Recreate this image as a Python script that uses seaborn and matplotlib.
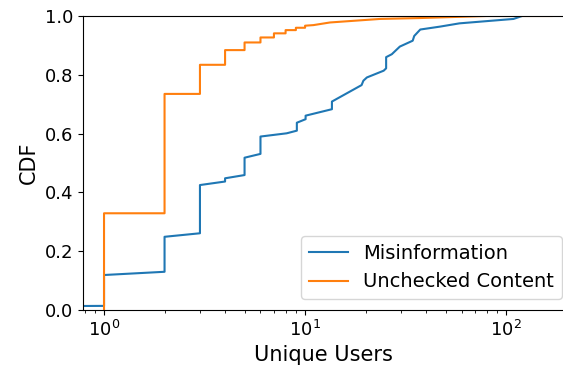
import matplotlib
matplotlib.use("Agg")
import matplotlib.pyplot as plt
import seaborn as sns
import pandas as pd

series_names = ["Misinformation", "Unchecked Content"]

misinfo_x = [0.5, 1, 1, 2, 2, 3, 3, 4, 4, 5, 5, 6, 6, 8.1, 9.1, 9.1, 10.06, 10.06,
             13.6, 13.6, 19.1, 19.5, 20.3, 24.6, 25.3, 25.3, 27.0, 29.6, 34.3, 34.9,
             37.4, 47, 58.6, 108.8, 120]
misinfo_cdf = [0.013, 0.014, 0.119, 0.130, 0.249, 0.261, 0.425, 0.437, 0.448, 0.459,
               0.518, 0.531, 0.590, 0.601, 0.610, 0.637, 0.649, 0.661,
               0.683, 0.709, 0.765, 0.780, 0.791, 0.814, 0.822, 0.860, 0.870, 0.896,
               0.916, 0.932, 0.954, 0.964, 0.975, 0.990, 1.0]

unchecked_x = [1, 1, 2, 2, 3, 3, 4, 4, 5, 5, 6, 6, 7, 7, 8, 8, 9, 9, 10, 10,
               11, 13.3, 23.6, 37, 80, 168]
unchecked_cdf = [0.0, 0.329, 0.329, 0.735, 0.735, 0.834, 0.834, 0.884, 0.884, 0.910,
                 0.910, 0.927, 0.927, 0.941, 0.941, 0.952, 0.952, 0.960, 0.960, 0.967,
                 0.969, 0.978, 0.990, 0.993, 1.0, 1.0]

df = pd.concat([
    pd.DataFrame({"x": misinfo_x, "y": misinfo_cdf, "series": series_names[0],
                  "order": range(len(misinfo_x))}),
    pd.DataFrame({"x": unchecked_x, "y": unchecked_cdf, "series": series_names[1],
                  "order": range(len(unchecked_x))}),
], ignore_index=True)

fig = plt.figure(figsize=(5.63, 3.72), dpi=100)
ax = fig.add_axes([83 / 563, 62 / 372, 481 / 563, 294 / 372])

sns.lineplot(data=df, x="x", y="y", hue="series", units="series", estimator=None,
             sort=False, palette=["#1f77b4", "#ff7f0e"], linewidth=1.5, ax=ax)

ax.set_xscale("log")
ax.set_xlim(0.786, 194)
ax.set_ylim(0, 1)
ax.set_xlabel("Unique Users", fontsize=15)
ax.set_ylabel("CDF", fontsize=15)
ax.tick_params(labelsize=13)
ax.legend(loc="lower right", bbox_to_anchor=(0.996, 0.037), borderaxespad=0,
          fontsize=14)

fig.savefig("out.png", dpi=100)
